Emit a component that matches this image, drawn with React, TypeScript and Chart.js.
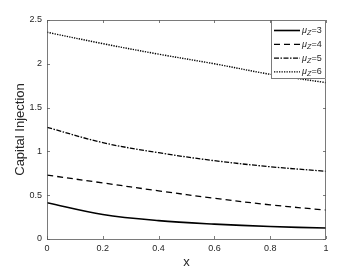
import React, { useEffect, useRef } from "react";
import { Chart, registerables } from "chart.js";

Chart.register(...registerables);

const xValues = [0, 0.2, 0.4, 0.6, 0.8, 1];
const mu3 = [0.414, 0.28, 0.21, 0.17, 0.142, 0.125];
const mu4 = [0.73, 0.64, 0.55, 0.465, 0.39, 0.33];
const mu5 = [1.275, 1.1, 0.985, 0.894, 0.825, 0.773];
const mu6 = [2.36, 2.23, 2.11, 2.0, 1.88, 1.785];
const seriesLabels = ["μ_Z=3", "μ_Z=4", "μ_Z=5", "μ_Z=6"];
const xTicks = [0, 0.2, 0.4, 0.6, 0.8, 1];
const yTicks = [0, 0.5, 1, 1.5, 2, 2.5];

const AXIS = "#262626";
const FONT = "'Liberation Sans', Arial, sans-serif";

const framePlugin = {
  id: "matlabFrame",
  afterDatasetsDraw(chart: any) {
    const { ctx, chartArea: a, scales } = chart;
    ctx.save();
    ctx.strokeStyle = "#5a5a5a";
    ctx.lineWidth = 0.8;
    ctx.setLineDash([]);
    ctx.strokeRect(a.left + 0.5, a.top + 0.5, a.right - a.left - 1, a.bottom - a.top);
    const tl = 3;
    ctx.beginPath();
    scales.x.ticks.forEach((t: any) => {
      const px = Math.round(scales.x.getPixelForValue(t.value)) + 0.5;
      ctx.moveTo(px, a.bottom);
      ctx.lineTo(px, a.bottom - tl);
      ctx.moveTo(px, a.top);
      ctx.lineTo(px, a.top + tl);
    });
    scales.y.ticks.forEach((t: any) => {
      const py = Math.round(scales.y.getPixelForValue(t.value)) + 0.5;
      ctx.moveTo(a.left, py);
      ctx.lineTo(a.left + tl, py);
      ctx.moveTo(a.right, py);
      ctx.lineTo(a.right - tl, py);
    });
    ctx.stroke();
    ctx.restore();
  },
  afterDraw(chart: any) {
    const { ctx, chartArea: a } = chart;
    const boxW = 55;
    const boxH = 59;
    const boxL = a.right - boxW;
    const boxT = a.top;
    ctx.save();
    ctx.fillStyle = "#fff";
    ctx.fillRect(boxL, boxT, boxW, boxH);
    ctx.strokeStyle = "#5a5a5a";
    ctx.lineWidth = 0.8;
    ctx.setLineDash([]);
    ctx.strokeRect(boxL + 0.5, boxT + 0.5, boxW - 1, boxH - 1);
    chart.data.datasets.forEach((ds: any, i: number) => {
      const y = boxT + 10.5 + i * 13.8;
      ctx.setLineDash(ds.borderDash || []);
      ctx.lineWidth = ds.borderWidth;
      ctx.strokeStyle = ds.borderColor;
      ctx.beginPath();
      ctx.moveTo(boxL + 3, y);
      ctx.lineTo(boxL + 29, y);
      ctx.stroke();
      const [main, rest] = String(ds.label).split("_");
      const sub = rest.charAt(0);
      const tail = rest.slice(1);
      let x = boxL + 31;
      ctx.fillStyle = AXIS;
      ctx.textBaseline = "middle";
      ctx.textAlign = "left";
      ctx.font = `italic 9px ${FONT}`;
      ctx.fillText(main, x, y);
      x += ctx.measureText(main).width;
      ctx.font = `italic 7px ${FONT}`;
      ctx.fillText(sub, x, y + 2.5);
      x += ctx.measureText(sub).width + 0.3;
      ctx.font = `9px ${FONT}`;
      ctx.fillText(tail, x, y);
    });
    ctx.restore();
  },
};

export default function App() {
  const ref = useRef<HTMLCanvasElement | null>(null);
  useEffect(() => {
    document.body.style.margin = "0";
    const mk = (vals: number[]) => vals.map((v, i) => ({ x: xValues[i], y: v }));
    const chart = new Chart(ref.current!, {
      type: "line",
      data: {
        datasets: [
          { label: seriesLabels[0], data: mk(mu3), borderColor: "#000", borderWidth: 1.6, borderDash: [] },
          { label: seriesLabels[1], data: mk(mu4), borderColor: "#000", borderWidth: 1.3, borderDash: [6, 4] },
          { label: seriesLabels[2], data: mk(mu5), borderColor: "#000", borderWidth: 1.3, borderDash: [5, 1.5, 1.5, 1.5] },
          { label: seriesLabels[3], data: mk(mu6), borderColor: "#000", borderWidth: 1.4, borderDash: [1.3, 1.2] },
        ].map((d) => ({
          ...d,
          pointRadius: 0,
          fill: false,
          tension: 0.35,
        })),
      },
      options: {
        responsive: false,
        animation: false,
        layout: { padding: { top: 20, right: 34, left: 13, bottom: 0 } },
        plugins: { legend: { display: false }, tooltip: { enabled: false } },
        scales: {
          x: {
            type: "linear",
            min: 0,
            max: 1,
            afterBuildTicks: (s: any) => {
              s.ticks = xTicks.map((v) => ({ value: v }));
            },
            afterFit: (s: any) => {
              s.height = 31;
            },
            grid: { display: false, drawTicks: false },
            border: { display: false },
            ticks: {
              color: AXIS,
              font: { size: 9, family: FONT },
              padding: 4,
              maxRotation: 0,
              callback: (v: any) => String(Math.round(Number(v) * 10) / 10),
            },
            title: {
              display: true,
              text: "x",
              color: AXIS,
              font: { size: 13, family: FONT },
              padding: { top: 0, bottom: 0 },
            },
          },
          y: {
            type: "linear",
            min: 0,
            max: 2.5,
            afterBuildTicks: (s: any) => {
              s.ticks = yTicks.map((v) => ({ value: v }));
            },
            afterFit: (s: any) => {
              s.width = 34;
            },
            grid: { display: false, drawTicks: false },
            border: { display: false },
            ticks: {
              color: AXIS,
              font: { size: 9, family: FONT },
              padding: 5,
              callback: (v: any) => String(v),
            },
            title: {
              display: true,
              text: "Capital Injection",
              color: AXIS,
              font: { size: 13, family: FONT },
              padding: { top: 0, bottom: 0 },
            },
          },
        },
      },
      plugins: [framePlugin],
    });
    return () => chart.destroy();
  }, []);
  return (
    <div style={{ width: 360, height: 270, background: "#fff" }}>
      <canvas ref={ref} width={360} height={270} style={{ display: "block" }} />
    </div>
  );
}
